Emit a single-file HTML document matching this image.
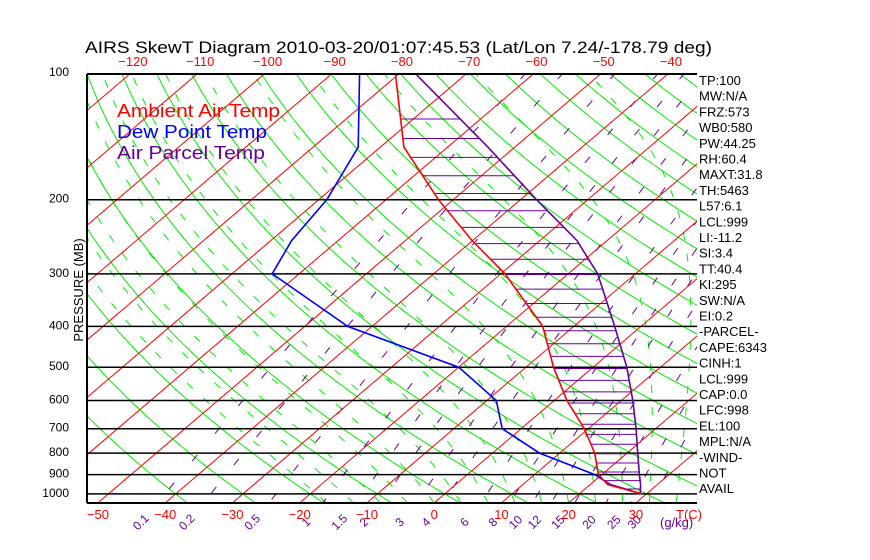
<!DOCTYPE html>
<html><head><meta charset="utf-8">
<style>
body{margin:0;background:#fff;}
svg{display:block;font-family:"Liberation Sans",sans-serif;}
</style></head>
<body>
<svg id="c" width="870" height="560" viewBox="0 0 870 560">
<defs><clipPath id="clip"><rect x="87" y="74" width="610" height="429"/></clipPath></defs>
<g id="bg" clip-path="url(#clip)"></g>
<g id="fg" clip-path="url(#clip)"></g>
<g id="labels"></g>
<text x="85" y="53" font-size="17" fill="#000" textLength="627" lengthAdjust="spacingAndGlyphs">AIRS SkewT Diagram 2010-03-20/01:07:45.53 (Lat/Lon 7.24/-178.79 deg)</text>
<text x="117" y="117" font-size="18" fill="#ff0000" textLength="163" lengthAdjust="spacingAndGlyphs">Ambient Air Temp</text>
<text x="117" y="138" font-size="18" fill="#0000ff" textLength="150" lengthAdjust="spacingAndGlyphs">Dew Point Temp</text>
<text x="117" y="159" font-size="18" fill="#660099" textLength="148" lengthAdjust="spacingAndGlyphs">Air Parcel Temp</text>
<text transform="translate(83,290) rotate(-90)" font-size="13" text-anchor="middle">PRESSURE (MB)</text>
</svg>
<script>
const pressureLevels=[100,150,200,250,300,400,500,600,700,800,900,950,1000];
const ambientTemp=[-80.7,-66.5,-52.2,-40.1,-29.4,-14.6,-5.9,1.9,9.4,15.2,19.5,22.6,29.3];
const dewTemp=[-86,-73.3,-68.8,-66.9,-64,-43.6,-20,-8.6,-2.8,7,19,23,29.3];
const parcelTemp=[-77.8,-54,-37.6,-24.5,-15.6,-3.9,5,11.7,17.1,21.6,25.6,27.5,29.1];
const pressureTicks=[100,200,300,400,500,600,700,800,900,1000];
const bottomTempTicks=[-50,-40,-30,-20,-10,0,10,20,30];
const topTempTicks=[-120,-110,-100,-90,-80,-70,-60,-50,-40];
const mixRatios=[0.1,0.2,0.5,1,1.5,2,3,4,6,8,10,12,15,20,25,30];
const indexLabels=["TP:100","MW:N/A","FRZ:573","WB0:580","PW:44.25","RH:60.4","MAXT:31.8","TH:5463","L57:6.1","LCL:999","LI:-11.2","SI:3.4","TT:40.4","KI:295","SW:N/A","EI:0.2","-PARCEL-","CAPE:6343","CINH:1","LCL:999","CAP:0.0","LFC:998","EL:100","MPL:N/A","-WIND-","NOT","AVAIL"];

const NS="http://www.w3.org/2000/svg";
const K=182.8, TOP=74, BOT=503, X0=434, S=6.725, SK=1.172;
function yP(p){return 73+K*Math.log(p/100);}
function xT(T,p){return X0+S*T+SK*(BOT-yP(p));}
function mk(tag,attrs,parent){const e=document.createElementNS(NS,tag);for(const k in attrs)e.setAttribute(k,attrs[k]);parent.appendChild(e);return e;}
const bg=document.getElementById('bg'),fg=document.getElementById('fg'),lb=document.getElementById('labels');
function polyPts(pts){return pts.map(q=>q[0].toFixed(1)+','+q[1].toFixed(1)).join(' ');}

for(let th=-40;th<=260;th+=10){
  const pts=[];
  for(let p=100;p<=1050;p+=10){const T=(th+273.15)*Math.pow(p/1000,0.286)-273.15;pts.push([xT(T,p),yP(p)]);}
  const e=mk('polyline',{points:polyPts(pts),fill:'none',stroke:'#00ee00','stroke-width':1},bg);
  
  
}
function es(T){return 6.112*Math.exp(17.67*T/(T+243.5));}
for(let T0=-16;T0<=44;T0+=4){
  let T=T0+273.15;const pts=[];
  for(let p=1050;p>=100;p-=5){
    pts.push([xT(T-273.15,p),yP(p)]);
    const e=es(T-273.15),rs=0.622*e/(p-e);
    const dTdp=(287*T+2.5e6*rs)/(1004+2.5e6*2.5e6*rs*0.622/(287*T*T))/p;
    T-=dTdp*5;
  }
  const e=mk('polyline',{points:polyPts(pts),fill:'none',stroke:'#00ee00','stroke-width':1,'stroke-dasharray':'8,14'},bg);
  
  
}
function tdW(w,p){const e=w*p/(622+w);const l=Math.log(e/6.112);return 243.5*l/(17.67-l);}
mixRatios.forEach((w,i)=>{
  const pts=[];
  for(let p=100;p<=1050;p+=10)pts.push([xT(tdW(w,p),p),yP(p)]);
  const e=mk('polyline',{points:polyPts(pts),fill:'none',stroke:'#660099','stroke-width':1,'stroke-dasharray':'8,28'},bg);
  
  
  const x=xT(tdW(w,1050),1050)-14;
  const t=mk('text',{x:0,y:0,'font-size':12,fill:'#660099','text-anchor':'middle',transform:`translate(${x.toFixed(1)},525) rotate(-45)`},lb);
  t.textContent=w;
  
  
});
{const t=mk('text',{x:660,y:527,'font-size':13,fill:'#660099'},lb);t.textContent='(g/kg)';

}
for(let T=-200;T<=60;T+=10){
  const e=mk('line',{x1:xT(T,1050),y1:yP(1050),x2:xT(T,100),y2:yP(100),stroke:'#ff0000','stroke-width':1},bg);
  
  
}
pressureTicks.forEach(p=>{
  const e=mk('line',{x1:87,y1:yP(p),x2:697,y2:yP(p),stroke:'#000','stroke-width':1.5},bg);
  
  
  const t=mk('text',{x:69,y:yP(p)+3,'font-size':12,'text-anchor':'end'},lb);
  t.textContent=p;
  
  
});
{const e=mk('line',{x1:87,y1:74,x2:697,y2:74,stroke:'#000','stroke-width':2},lb);

const f=mk('line',{x1:87,y1:74,x2:87,y2:503,stroke:'#000','stroke-width':2},lb);

const g=mk('line',{x1:87,y1:503,x2:697,y2:503,stroke:'#000','stroke-width':2},lb);
}
bottomTempTicks.forEach(T=>{
  const t=mk('text',{x:xT(T,1050),y:519,'font-size':13,fill:'#ff0000','text-anchor':'middle'},lb);
  t.textContent=T<0?'\u2212'+(-T):T;
  
  
});
{const t=mk('text',{x:676,y:519,'font-size':13,fill:'#ff0000'},lb);t.textContent='T(C)';
}
topTempTicks.forEach(T=>{
  const t=mk('text',{x:xT(T,100)+2,y:66,'font-size':13,fill:'#ff0000','text-anchor':'middle'},lb);
  t.textContent='\u2212'+(-T);
  
  
});
function interp(arr,p){
  for(let i=0;i<pressureLevels.length-1;i++){
    const p0=pressureLevels[i],p1=pressureLevels[i+1];
    if(p>=p0&&p<=p1){const f=Math.log(p/p0)/Math.log(p1/p0);return arr[i]+(arr[i+1]-arr[i])*f;}
  }
  return arr[arr.length-1];
}
{let y=119;
while(y<494){
  const p=100*Math.exp((y-73)/K);
  const xa=xT(interp(ambientTemp,p),p),xp=xT(interp(parcelTemp,p),p);
  if(xp>xa){const e=mk('line',{x1:xa,y1:y,x2:xp,y2:y,stroke:'#660099','stroke-width':1},fg);
  }
  y+=19.5-11.5*(y-119)/(494-119);
}}
function drawProfile(arr,color,name){
  const pts=pressureLevels.map((p,i)=>[xT(arr[i],p),yP(p)]);
  const e=mk('polyline',{points:polyPts(pts),fill:'none',stroke:color,'stroke-width':1.6},fg);
  
  
}
drawProfile(parcelTemp,'#660099','parcel-temp-line');
drawProfile(dewTemp,'#0000ff','dewpoint-line');
drawProfile(ambientTemp,'#ff0000','ambient-temp-line');
indexLabels.forEach((s,i)=>{
  const t=mk('text',{x:699,y:85+i*15.7,'font-size':13},lb);
  t.textContent=s;
  
  
});
</script>
</body></html>
